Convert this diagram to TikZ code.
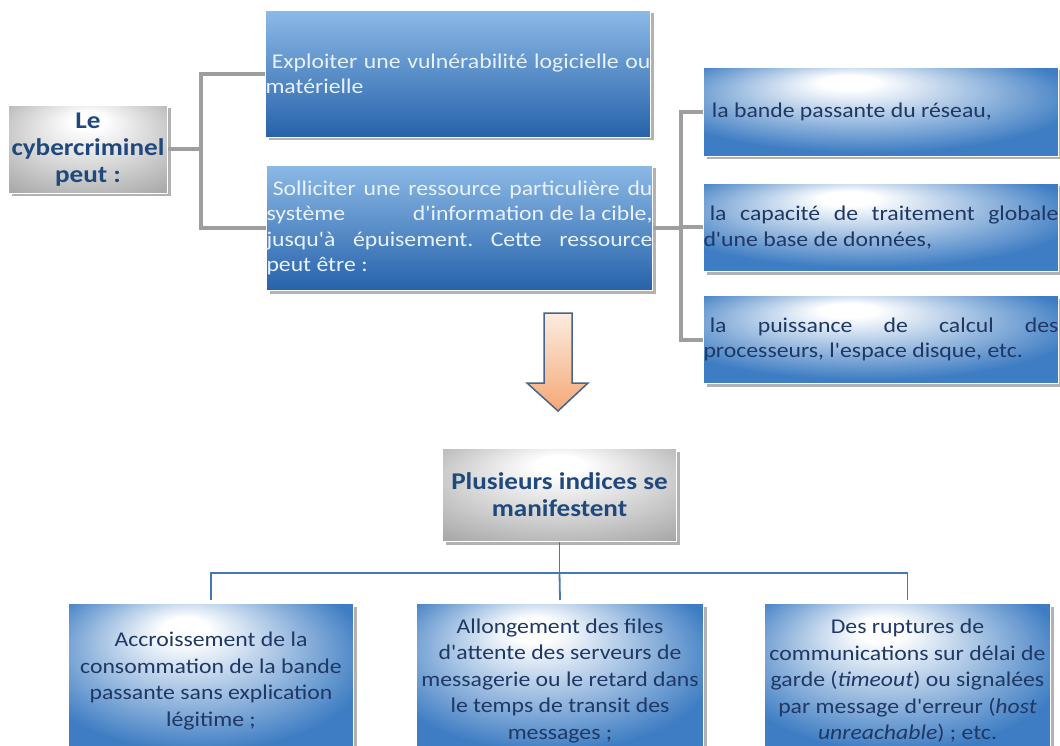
\documentclass[tikz,border=0pt]{standalone}
\usepackage{fontspec}
\setmainfont{Carlito}[FakeStretch=1.13, Ligatures=TeXOff]
\usetikzlibrary{shadows}
\definecolor{bdark}{RGB}{38,98,170}
\definecolor{blight}{RGB}{140,185,230}
\definecolor{bedge}{RGB}{62,125,195}
\definecolor{txtblue}{RGB}{31,56,100}
\definecolor{txtlight}{RGB}{232,242,252}
\definecolor{hdrblue}{RGB}{31,73,125}
\definecolor{linegray}{RGB}{158,158,158}
\definecolor{lineblue}{RGB}{70,120,180}
\definecolor{arrowtop}{RGB}{252,236,224}
\definecolor{arrowbot}{RGB}{244,168,118}
\definecolor{arrowline}{RGB}{70,100,140}
\definecolor{grayedge}{RGB}{150,150,150}
\definecolor{graymid}{RGB}{205,205,205}
\pgfdeclareradialshading{sidesh}{\pgfpoint{-5bp}{18bp}}{color(0bp)=(white); color(4bp)=(white); color(30bp)=(bedge); color(50bp)=(bedge)}
\pgfdeclareradialshading{graysh}{\pgfpoint{0bp}{18bp}}{color(0bp)=(white); color(5bp)=(white); color(24bp)=(graymid); color(44bp)=(grayedge); color(50bp)=(grayedge)}
\tikzset{
  shad/.style={drop shadow={shadow xshift=3pt,shadow yshift=-3pt,fill=black,opacity=.3}},
  txt/.style={font=\frenchspacing\fontsize{21}{25.5}\selectfont},
  hdr/.style={font=\bfseries\fontsize{24}{27}\selectfont, text=hdrblue, align=center},
  graybox/.style={shad, anchor=north west, inner sep=0pt, shading=graysh, draw=white, line width=1pt, hdr},
  topbox/.style={shad, anchor=north west, inner xsep=0pt, inner ysep=0pt, top color=blight, bottom color=bdark, draw=white, line width=1pt, text=txtlight, txt, align=justify},
  sidebox/.style={shad, anchor=north west, inner xsep=0pt, inner ysep=0pt, shading=sidesh, draw=white, line width=1pt, text=txtblue, txt, align=justify, text width=355pt},
  botbox/.style={shad, anchor=north west, inner sep=0pt, shading=sidesh, draw=white, line width=1pt, text=txtblue, font=\frenchspacing\fontsize{21}{26.5}\selectfont, align=center, minimum height=155pt},
  grayconn/.style={draw=linegray, line width=4pt},
  blueconn/.style={draw=lineblue, line width=1.8pt},
}
\begin{document}
\begin{tikzpicture}[x=1pt,y=-1pt]
\useasboundingbox[fill=white] (0,0) rectangle (1060,746);
% left
\node[graybox, minimum width=159pt, minimum height=88pt] (crim) at (8,105) {Le\\cybercriminel\\peut :};
% top boxes
\node[topbox, text width=385pt, minimum height=127pt] (top1) at (265,10)
 {\hspace*{.3em}Exploiter une vulnérabilité logicielle ou\linebreak matérielle};
\node[topbox, text width=386pt, minimum height=125pt] (top2) at (266,165)
 {\hspace*{.3em}Solliciter une ressource particulière du\linebreak système\hfill d'information de la cible,\linebreak jusqu'à épuisement. Cette ressource\linebreak peut être :};
% side boxes
\node[sidebox, minimum height=89pt] (ra) at (703,67)
 {\hspace*{.4em}la bande passante du réseau,};
\node[sidebox, minimum height=88pt] (rb) at (703,183)
 {\hspace*{.3em}la capacité de traitement globale\linebreak d'une base de données,};
\node[sidebox, minimum height=88pt] (rc) at (703,295)
 {\hspace*{.3em}la puissance de calcul des\linebreak processeurs, l'espace disque, etc.};
% connectors top
\draw[grayconn] (crim.east) -- ++(33,0) |- (top1.west);
\draw[grayconn] (crim.east) -- ++(33,0) |- (top2.west);
\draw[grayconn] (top2.east) -- ++(28,0) |- (ra.west);
\draw[grayconn] (top2.east) -- ++(28,0) |- (rb.west);
\draw[grayconn] (top2.east) -- ++(28,0) |- (rc.west);
% arrow
\shade[top color=arrowtop, bottom color=arrowbot, draw=arrowline, line width=1.5pt, line join=miter]
 (544,313) -- (572,313) -- (572,383) -- (588,383) -- (558,411) -- (527,383) -- (544,383) -- cycle;
% plusieurs
\node[graybox, minimum width=234pt, minimum height=93pt] (plus) at (442,448) {Plusieurs indices se\\manifestent};
% bottom boxes
\node[botbox, minimum width=285pt] (b1) at (68,603)
 {Accroissement de la\\consommation de la bande\\passante sans explication\\légitime ;};
\node[botbox, minimum width=287pt] (b2) at (416,603)
 {Allongement des files\\d'attente des serveurs de\\messagerie ou le retard dans\\le temps de transit des\\messages ;};
\node[botbox, minimum width=286pt] (b3) at (764,603)
 {Des ruptures de\\communications sur délai de\\garde (\textit{timeout}) ou signalées\\par message d'erreur (\textit{host}\\\textit{unreachable}) ; etc.};
% bottom connectors
\draw[blueconn] (plus.south) -- ++(0,31) coordinate (j);
\draw[blueconn] (j) -| ([yshift=3pt]b1.north);
\draw[blueconn] (j) -| ([yshift=3pt]b3.north);
\draw[blueconn] (j) -- ([yshift=3pt]b2.north);
\end{tikzpicture}
\end{document}
